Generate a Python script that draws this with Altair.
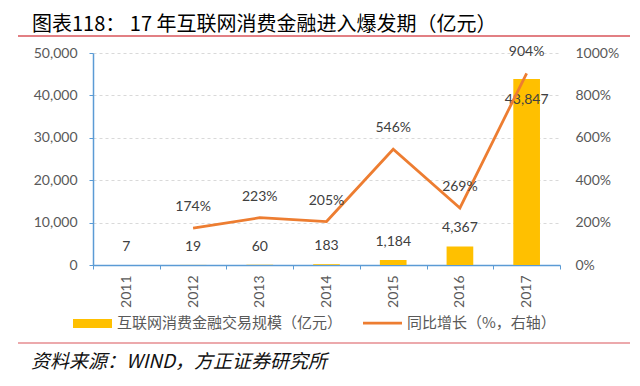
import altair as alt
import pandas as pd

years = ["2011", "2012", "2013", "2014", "2015", "2016", "2017"]
scale_vals = [7, 19, 60, 183, 1184, 4367, 43847]
growth_years = ["2012", "2013", "2014", "2015", "2016", "2017"]
growth_vals = [174, 223, 205, 546, 269, 904]

title_text = "图表118：  17 年互联网消费金融进入爆发期（亿元）"
legend_bar = "互联网消费金融交易规模（亿元）"
legend_line = "同比增长（%，右轴）"
source_text = "资料来源：WIND，方正证券研究所"

left_ticks = [0, 10000, 20000, 30000, 40000, 50000]
right_ticks = [0, 200, 400, 600, 800, 1000]

bar_df = pd.DataFrame({"year": years, "value": scale_vals})
line_df = pd.DataFrame({"year": growth_years, "growth": growth_vals})

NUM_FONT = "Lato"
CJK_FONT = "Noto Sans CJK SC"
BAR_COLOR = "#FFC000"
LINE_COLOR = "#ED7D31"
AXIS_BLUE = "#5B9BD5"
LABEL_GRAY = "#595959"
TEXT_DARK = "#404040"
RED = "#D9545A"

x_enc = alt.X(
    "year:N",
    sort=years,
    scale=alt.Scale(domain=years, paddingInner=0, paddingOuter=0),
    axis=alt.Axis(
        title=None,
        labelAngle=-90,
        labelFont=NUM_FONT,
        labelFontSize=14,
        labelColor=LABEL_GRAY,
        labelPadding=6,
        domainColor=AXIS_BLUE,
        domainWidth=1.5,
        tickColor=AXIS_BLUE,
        tickSize=4,
        tickBand="extent",
        grid=False,
    ),
)

left_scale = alt.Scale(domain=[0, 50000], nice=False)
right_scale = alt.Scale(domain=[0, 1000], nice=False)

bars = alt.Chart(bar_df).mark_bar(color=BAR_COLOR, width=alt.RelativeBandSize(0.4)).encode(
    x=x_enc,
    y=alt.Y(
        "value:Q",
        scale=left_scale,
        axis=alt.Axis(
            orient="left",
            title=None,
            values=left_ticks,
            format=",d",
            labelFont=NUM_FONT,
            labelFontSize=14,
            labelColor=LABEL_GRAY,
            labelPadding=12,
            domainColor=AXIS_BLUE,
            domainWidth=1.5,
            tickColor=AXIS_BLUE,
            tickSize=4,
            grid=True,
            gridColor="#D9D9D9",
            gridDash=[3, 3],
        ),
    ),
)

bar_labels_low = alt.Chart(bar_df).transform_filter(
    alt.datum.value < 20000
).mark_text(font=NUM_FONT, fontSize=14, color=TEXT_DARK, baseline="middle", dy=-18).encode(
    x=x_enc,
    y=alt.Y("value:Q", scale=left_scale, axis=None),
    text=alt.Text("value:Q", format=",d"),
)

bar_labels_high = alt.Chart(bar_df).transform_filter(
    alt.datum.value >= 20000
).mark_text(font=NUM_FONT, fontSize=14, color=TEXT_DARK, baseline="middle", dy=21).encode(
    x=x_enc,
    y=alt.Y("value:Q", scale=left_scale, axis=None),
    text=alt.Text("value:Q", format=",d"),
)

line = alt.Chart(line_df).mark_line(color=LINE_COLOR, strokeWidth=2.75).encode(
    x=x_enc,
    y=alt.Y(
        "growth:Q",
        scale=right_scale,
        axis=alt.Axis(
            orient="right",
            title=None,
            values=right_ticks,
            labelExpr="datum.value + '%'",
            labelFont=NUM_FONT,
            labelFontSize=14,
            labelColor=LABEL_GRAY,
            labelPadding=15,
            domain=False,
            ticks=False,
            grid=False,
        ),
    ),
)

line_labels = alt.Chart(line_df).transform_calculate(
    lbl="datum.growth + '%'"
).mark_text(
    font=NUM_FONT, fontSize=14, color=TEXT_DARK, baseline="middle", dy=-21
).encode(
    x=x_enc,
    y=alt.Y("growth:Q", scale=right_scale, axis=None),
    text="lbl:N",
)

# decorations
title_mark = alt.Chart(pd.DataFrame({"t": [title_text]})).mark_text(
    font=CJK_FONT, fontSize=20, fontWeight="normal", color="#000000", align="left", baseline="middle"
).encode(x=alt.value(-61), y=alt.value(-28), text="t:N")

top_rule = alt.Chart(pd.DataFrame({"a": [0]})).mark_rule(color=RED, strokeWidth=1.5).encode(
    x=alt.value(-75), x2=alt.value(537), y=alt.value(-17)
)
bottom_rule = alt.Chart(pd.DataFrame({"a": [0]})).mark_rule(color=RED, strokeWidth=1.2).encode(
    x=alt.value(-75), x2=alt.value(537), y=alt.value(290)
)

legend_rect = alt.Chart(pd.DataFrame({"a": [0]})).mark_rect(color=BAR_COLOR).encode(
    x=alt.value(-20), x2=alt.value(19), y=alt.value(266), y2=alt.value(275)
)
legend_text1 = alt.Chart(pd.DataFrame({"t": [legend_bar]})).mark_text(
    font=CJK_FONT, fontSize=15, color=LABEL_GRAY, align="left", baseline="middle"
).encode(x=alt.value(24), y=alt.value(270), text="t:N")
legend_line_mark = alt.Chart(pd.DataFrame({"a": [0]})).mark_rule(color=LINE_COLOR, strokeWidth=2.75).encode(
    x=alt.value(270), x2=alt.value(309), y=alt.value(270)
)
legend_text2 = alt.Chart(pd.DataFrame({"t": [legend_line]})).mark_text(
    font=CJK_FONT, fontSize=15, color=LABEL_GRAY, align="left", baseline="middle"
).encode(x=alt.value(314), y=alt.value(270), text="t:N")

source_mark = alt.Chart(pd.DataFrame({"t": [source_text]})).mark_text(
    font=CJK_FONT, fontSize=19, fontStyle="italic", color="#111111", align="left", baseline="middle"
).encode(x=alt.value(-62), y=alt.value(309), text="t:N")

chart = alt.layer(
    bars, bar_labels_low, bar_labels_high, line, line_labels,
    title_mark, top_rule, bottom_rule, legend_rect, legend_text1,
    legend_line_mark, legend_text2, source_mark,
).resolve_scale(y="independent").properties(
    width=467,
    height=212,
    autosize=alt.AutoSizeParams(type="none"),
    padding={"left": 85, "top": 45, "right": 72, "bottom": 113},
    background="white",
).configure_view(stroke=None)

chart.save("out.html", embed_options={"renderer": "svg", "actions": False})
